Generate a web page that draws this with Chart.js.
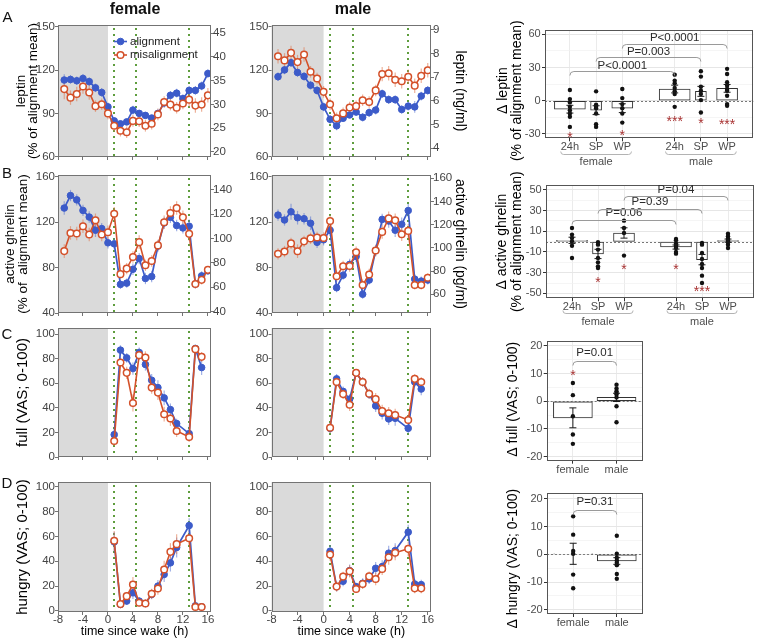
<!DOCTYPE html>
<html><head><meta charset="utf-8">
<script src="https://cdn.jsdelivr.net/npm/chart.js@4.4.1/dist/chart.umd.min.js"></script>
<style>
html,body{margin:0;padding:0;background:#fff}
body{width:757px;height:640px;position:relative;overflow:hidden;font-family:'Liberation Sans',Arial,Helvetica,sans-serif}
canvas{position:absolute;display:block}
.t{position:absolute;transform:translate(-50%,-50%);white-space:nowrap;color:#111;line-height:1;z-index:5}
.hd{font-weight:bold;font-size:16px}
.pl{font-size:15px}
</style></head><body>
<div class="t hd" style="left:135px;top:9px">female</div>
<div class="t hd" style="left:353px;top:9px">male</div>
<div class="t pl" style="left:7.5px;top:16px">A</div>
<div class="t pl" style="left:7px;top:172px">B</div>
<div class="t pl" style="left:7px;top:333px">C</div>
<div class="t pl" style="left:7px;top:482px">D</div>
<script>
// ===================== DATA =====================
const hoursBlood = [-7,-6,-5,-4,-3,-2,-1,0,1,2,3,4,5,6,7,8,9,10,11,12,13,14,15,16];
const hoursVAS = [1,2,3,4,5,6,7,8,9,10,11,13,14,15];
const timeTicks = [-8,-4,0,4,8,12,16];
const sleepWindow = [-8,0];
const mealTimes = [1,4.5,13];

const leptinFemAlign = [113.1,113.5,112.6,114.2,112.0,107.7,104.5,94.5,84.8,82.8,84.1,92.3,90.0,88.6,86.8,90.0,97.2,102.5,104.0,100.2,105.9,105.9,109.0,117.6];
const leptinFemAlignErr = [4,3,3,3,3,3,3,3,2,2,2,3,2,2,2,2,3,3,3,3,3,3,3,3];
const leptinFemMis = [106.8,100.9,103.4,108.6,104.5,95.0,96.3,90.0,81.4,78.0,76.9,84.8,84.6,81.4,82.8,89.3,97.9,96.1,93.9,96.8,99.5,95.4,96.1,102.5];
const leptinFemMisErr = [7,5,5,5,5,4,4,4,4,4,4,4,4,4,4,4,4,4,4,4,5,5,5,5];
const leptinMaleAlign = [115.4,120.1,125.1,118.3,115.6,109.5,105.9,94.5,85.9,81.4,86.6,88.9,90.9,87.3,90.5,92.3,103.6,99.5,99.5,92.7,95.0,94.5,102.0,105.9];
const leptinMaleAlignErr = [3,3,3,3,3,3,3,3,3,3,2,2,2,3,3,3,3,3,3,3,3,4,3,3];
const leptinMaleMis = [129.6,126.7,131.9,125.5,130.8,118.8,114.2,104.9,96.3,86.6,90.0,94.1,95.0,99.1,97.9,105.9,117.2,117.8,113.3,112.2,115.4,109.2,116.0,119.9];
const leptinMaleMisErr = [5,5,5,5,5,4,4,4,4,4,4,4,4,4,4,4,5,5,5,5,5,5,5,5];

const ghrelinFemAlign = [132.4,143.4,139.6,130.3,124.5,112.9,114.3,101.8,100.9,65.2,66.3,78.5,87.9,70.4,72.1,98.9,119.3,124.2,117.0,114.9,116.4,65.5,72.7,77.1];
const ghrelinFemAlignErr = [6,5,5,5,5,6,5,5,5,4,4,5,5,5,5,5,5,5,5,5,6,4,4,3];
const ghrelinFemMis = [94.5,110.5,110.0,116.4,109.1,121.6,109.1,111.1,127.4,74.2,79.1,89.3,102.4,82.0,85.8,99.5,119.9,128.0,132.4,124.2,109.7,65.5,69.2,78.0];
const ghrelinFemMisErr = [6,6,6,6,6,6,6,6,6,4,5,5,6,5,5,5,6,6,6,6,6,4,4,3];
const ghrelinMaleAlign = [126.2,121.9,129.1,123.9,123.0,119.0,102.2,104.5,112.9,62.3,73.3,82.8,89.8,56.5,69.0,95.0,122.4,121.0,112.9,118.1,130.2,69.8,68.1,69.0];
const ghrelinMaleAlignErr = [5,5,7,6,5,6,5,5,5,4,4,5,5,4,4,5,5,6,6,6,6,4,4,4];
const ghrelinMaleMis = [92.1,94.1,101.3,94.4,103.1,105.7,106.5,106.0,121.0,72.4,81.1,81.4,93.5,64.6,73.9,95.0,111.4,123.3,121.6,109.4,112.3,64.6,64.6,71.0];
const ghrelinMaleMisErr = [5,5,5,6,5,5,5,5,5,5,5,5,5,5,5,5,6,6,6,6,6,4,4,4];

const fullFemAlign = [18.2,87.0,80.7,72.0,85.1,75.3,62.5,56.5,48.1,38.6,27.2,19.0,88.3,72.8];
const fullFemAlignErr = [3,4,4,5,4,5,5,6,6,5,4,3,3,6];
const fullFemMis = [13.0,76.9,68.5,44.0,82.9,81.0,56.5,52.4,34.8,31.3,21.2,16.3,87.8,81.5];
const fullFemMisErr = [4,4,5,7,4,5,5,6,6,6,5,4,3,4];
const fullMaleAlign = [23.3,63.6,53.4,47.1,68.5,61.1,51.2,41.6,35.6,31.0,31.5,23.3,61.1,55.3];
const fullMaleAlignErr = [4,4,4,4,3,4,4,5,5,5,6,4,4,5];
const fullMaleMis = [23.8,61.1,51.2,42.5,68.5,61.1,51.5,47.1,37.5,35.6,34.2,30.1,63.6,61.1];
const fullMaleMisErr = [4,4,4,5,3,4,4,5,5,5,5,4,4,4];

const hungryFemAlign = [55.6,5.1,7.8,14.5,7.8,5.9,13.2,19.9,29.3,38.7,51.1,68.8,4.0,3.2];
const hungryFemAlignErr = [8,2,3,5,3,3,4,5,6,7,8,6,2,2];
const hungryFemMis = [56.5,5.4,11.8,21.2,6.5,5.9,13.7,18.0,33.3,47.6,53.8,58.6,3.0,3.0];
const hungryFemMisErr = [8,2,3,6,3,3,4,5,7,7,8,6,2,2];
const hungryMaleAlign = [48.1,19.5,23.8,32.4,19.5,22.2,25.7,34.3,35.7,46.5,48.6,63.5,21.6,21.1];
const hungryMaleAlignErr = [5,4,4,5,3,4,4,5,5,6,6,6,4,4];
const hungryMaleMis = [45.4,19.5,27.6,31.9,17.6,21.6,27.8,25.7,33.8,43.2,46.8,50.0,18.1,18.1];
const hungryMaleMisErr = [5,4,4,5,3,4,4,5,5,6,6,6,4,4];

const leptinPctTicks = [60,90,120,150];
const leptinFemAbsTicks = [20,25,30,35,40,45];
const leptinMaleAbsTicks = [4,5,6,7,8,9];
const ghrelinPctTicks = [40,80,120,160];
const ghrelinFemAbsTicks = [40,60,80,100,120,140];
const ghrelinMaleAbsTicks = [60,80,100,120,140,160];
const vasTicks = [0,20,40,60,80,100];

// bar panels
const condLabels = ['24h','SP','WP','24h','SP','WP'];
const condPos = [0,1,2,4,5,6];
const sexLabels = ['female','male'];
const sexPos = [1,2];

const dLeptinMean = [-7.6,-8.5,-6.7,10.6,8.5,11.2];
const dLeptinErr = [3.5,4.0,4.0,3.5,4.5,3.5];
const dLeptinDots = [
  [9.7,1.5,-1.5,-5.5,-8.5,-11.5,-14.5,-23.6],
  [8.5,-3.6,-5.5,-6.7,-11.5,-21.2,-23.6],
  [10.6,2.4,-3.0,-6.7,-11.5,-19.7],
  [23.6,18.2,15.8,11.5,8.5,6.1,-5.5],
  [26.7,21.8,12.7,9.1,6.1,0.6,-10.6],
  [28.8,24.2,16.7,13.6,10.6,9.1,4.5,-3.0,-4.5]
];
const dLeptinStarIdx = [0,2,3,4,5];
const dLeptinStarY = [-30.3,-27.9,-15.8,-17.3,-18.2];
const dLeptinStarText = ['*','*','***','*','***'];
const dLeptinPFrom = [0,1,2], dLeptinPTo = [3,4,5];
const dLeptinPLine = [27.3,39.4,50.9];
const dLeptinPLabelY = [31.8,44.2,56.5];
const dLeptinPText = ['P<0.0001','P=0.003','P<0.0001'];
const dLeptinMajor = [-30,0,30,60], dLeptinMinor = [-15,15,45];

const dGhrelinMean = [1.3,-11.9,8.4,-5.2,-17.4,1.0];
const dGhrelinErr = [3,4.5,5,2,5,1.5];
const dGhrelinDots = [
  [13.2,6.8,3.5,0.3,-3.9,-15.8],
  [-0.6,-2.9,-7.7,-15.8,-20.0,-23.9,-25.5],
  [20.3,13.2,8.4,-13.5],
  [2.6,1.3,-1.9,-3.9,-6.1,-10.0,-11.6],
  [-1.3,-2.9,-11.0,-16.8,-21.6,-25.5,-32.9,-40.0],
  [7.7,5.2,2.9,1.0,-0.6,-2.9,-6.1]
];
const dGhrelinStarIdx = [1,2,3,4];
const dGhrelinStarY = [-36.1,-23.9,-23.9,-44.8];
const dGhrelinStarText = ['*','*','*','***'];
const dGhrelinPFrom = [0,1,2], dGhrelinPTo = [3,4,5];
const dGhrelinPLine = [20.6,31.6,43.9];
const dGhrelinPLabelY = [27.7,38.4,49.7];
const dGhrelinPText = ['P=0.06','P=0.39','P=0.04'];
const dGhrelinMajor = [-50,-30,-10,10,30,50], dGhrelinMinor = [-40,-20,0,20,40];

const dFullMean = [-6.0,1.4];
const dFullErr = [3.6,1.5];
const dFullDots = [[6.6,2.2,-5.4,-12.0,-15.4],[6.0,4.6,3.6,3.0,2.4,1.4,-1.8,-7.6]];
const dFullStarIdx = [0], dFullStarY = [10.5], dFullStarText = ['*'];
const dFullPFrom = [0], dFullPTo = [1], dFullPLine = [14.7], dFullPLabelY = [17.4], dFullPText = ['P=0.01'];

const dHungryMean = [0.2,-2.4];
const dHungryErr = [3.8,1.2];
const dHungryDots = [[13.7,7.1,1.2,0.2,-7.3,-12.2],[6.7,0.2,-1.2,-2.2,-3.0,-3.9,-7.1,-8.8]];
const dHungryPFrom = [0], dHungryPTo = [1], dHungryPLine = [16.1], dHungryPLabelY = [19.0], dHungryPText = ['P=0.31'];
const vasDeltaMajor = [-20,-10,0,10,20], vasDeltaMinor = [-15,-5,5,15];

// ===================== STYLE / HELPERS =====================
const FONT = "'Liberation Sans', Arial, Helvetica, sans-serif";
const BLUE = '#3c5bc9', ORANGE = '#d4512a';
const BLUE_ERR = 'rgba(85,115,210,0.55)', ORANGE_ERR = 'rgba(225,125,85,0.6)';
const AX = '#737373', TXT = '#444';

Chart.defaults.font.family = FONT;
Chart.defaults.animation = false;
Chart.defaults.plugins.legend.display = false;
Chart.defaults.plugins.tooltip.enabled = false;

function addCanvas(b) {
  const c = document.createElement('canvas');
  c.width = b.w; c.height = b.h;
  c.style.left = b.x + 'px'; c.style.top = b.y + 'px';
  c.style.width = b.w + 'px'; c.style.height = b.h + 'px';
  document.body.appendChild(c);
  return c;
}

function drawErr(chart) {
  const ctx = chart.ctx;
  chart.data.datasets.forEach((ds, i) => {
    if (!ds.err) return;
    const meta = chart.getDatasetMeta(i);
    const ys = meta.yScale;
    ctx.save();
    ctx.strokeStyle = ds.errColor; ctx.lineWidth = ds.errWidth || 1.2;
    meta.data.forEach((el, j) => {
      const v = ds.data[j].y, e = ds.err[j];
      if (e == null) return;
      const px = el.x, y0 = ys.getPixelForValue(v - e), y1 = ys.getPixelForValue(v + e);
      ctx.beginPath(); ctx.moveTo(px, y0); ctx.lineTo(px, y1);
      if (ds.errCap) {
        ctx.moveTo(px - ds.errCap, y0); ctx.lineTo(px + ds.errCap, y0);
        ctx.moveTo(px - ds.errCap, y1); ctx.lineTo(px + ds.errCap, y1);
      }
      ctx.stroke();
    });
    ctx.restore();
  });
}

function makeAnnot(o) {
  return {
    id: 'annot',
    beforeDatasetsDraw(chart) {
      const {ctx, chartArea: a, scales: {x, y}} = chart;
      ctx.save();
      if (o.shade) {
        const x0 = x.getPixelForValue(o.shade[0]), x1 = x.getPixelForValue(o.shade[1]);
        ctx.fillStyle = '#dadada';
        ctx.fillRect(x0, a.top, x1 - x0, a.bottom - a.top);
      }
      if (o.vlines) {
        ctx.strokeStyle = '#5e9d3d'; ctx.lineWidth = 2; ctx.setLineDash([2, 4]);
        o.vlines.forEach(v => {
          const px = Math.round(x.getPixelForValue(v));
          ctx.beginPath(); ctx.moveTo(px, a.top + 3); ctx.lineTo(px, a.bottom); ctx.stroke();
        });
        ctx.setLineDash([]);
      }
      if (o.zero) {
        const py = Math.round(y.getPixelForValue(0)) + 0.5;
        ctx.strokeStyle = '#777'; ctx.lineWidth = 1; ctx.setLineDash([2, 2]);
        ctx.beginPath(); ctx.moveTo(a.left, py); ctx.lineTo(a.right, py); ctx.stroke();
        ctx.setLineDash([]);
      }
      if (o.errFirst) drawErr(chart);
      ctx.restore();
    },
    afterDatasetsDraw(chart) {
      const {ctx, chartArea: a, scales: {x, y}} = chart;
      ctx.save();
      if (!o.errFirst) drawErr(chart);
      // frame
      ctx.strokeStyle = o.frameColor; ctx.lineWidth = 1;
      const L = Math.round(a.left) + 0.5, T = Math.round(a.top) + 0.5, R = Math.round(a.right) - 0.5, B = Math.round(a.bottom) - 0.5;
      ctx.strokeRect(L, T, R - L, B - T);
      // legend
      if (o.legend) {
        ctx.font = '11.5px ' + FONT; ctx.textBaseline = 'middle'; ctx.textAlign = 'left';
        chart.data.datasets.forEach((ds, k) => {
          const yy = a.top + o.legend.dy + k * o.legend.gap, x0 = a.left + o.legend.dx;
          ctx.strokeStyle = ds.borderColor; ctx.lineWidth = 1.6;
          ctx.beginPath(); ctx.moveTo(x0, yy); ctx.lineTo(x0 + 13, yy); ctx.stroke();
          ctx.beginPath(); ctx.arc(x0 + 6.5, yy, 3.3, 0, Math.PI * 2);
          ctx.fillStyle = ds.pointBackgroundColor; ctx.fill();
          ctx.lineWidth = ds.pointBorderWidth; ctx.strokeStyle = ds.pointBorderColor; ctx.stroke();
          ctx.fillStyle = '#222'; ctx.fillText(ds.label, x0 + 16, yy);
        });
      }
      // significance brackets
      if (o.brackets) {
        ctx.font = '11.5px ' + FONT; ctx.textAlign = 'center'; ctx.textBaseline = 'middle';
        o.brackets.forEach(bk => {
          const p1 = x.getPixelForValue(bk.x1), p2 = x.getPixelForValue(bk.x2), py = Math.round(y.getPixelForValue(bk.y)) + 0.5;
          ctx.strokeStyle = '#9a9a9a'; ctx.lineWidth = 1;
          ctx.beginPath();
          ctx.moveTo(p1, py + 4); ctx.quadraticCurveTo(p1, py, p1 + 4, py);
          ctx.lineTo(p2 - 4, py); ctx.quadraticCurveTo(p2, py, p2, py + 4);
          ctx.stroke();
          ctx.fillStyle = '#2b2b2b';
          ctx.fillText(bk.text, (p1 + p2) / 2, y.getPixelForValue(bk.ty));
        });
      }
      // stars
      if (o.stars) {
        ctx.font = '14px ' + FONT; ctx.textAlign = 'center'; ctx.textBaseline = 'alphabetic';
        ctx.fillStyle = '#a83232';
        o.stars.forEach(s => ctx.fillText(s.text, x.getPixelForValue(s.x), y.getPixelForValue(s.y) + 8));
      }
      // group labels under categories
      if (o.groups) {
        ctx.font = '11px ' + FONT; ctx.textAlign = 'center'; ctx.textBaseline = 'middle';
        o.groups.forEach(g => {
          const p1 = x.getPixelForValue(g.x1), p2 = x.getPixelForValue(g.x2), py = Math.round(a.bottom + o.groupLineDy) + 0.5;
          ctx.strokeStyle = '#b3b3b3'; ctx.lineWidth = 1;
          ctx.beginPath();
          ctx.moveTo(p1, py - 3); ctx.quadraticCurveTo(p1, py, p1 + 3, py);
          ctx.lineTo(p2 - 3, py); ctx.quadraticCurveTo(p2, py, p2, py - 3);
          ctx.stroke();
          ctx.fillStyle = '#4d4d4d';
          ctx.fillText(g.text, x.getPixelForValue(g.c), a.bottom + o.groupTextDy);
        });
      }
      // rotated y-axis title (ggplot panels: centred with a small vertical offset)
      if (o.yTitle) {
        const lines = Array.isArray(o.yTitle.text) ? o.yTitle.text : [o.yTitle.text];
        ctx.font = '14px ' + FONT; ctx.textAlign = 'center'; ctx.textBaseline = 'middle'; ctx.fillStyle = '#000';
        const cy = (a.top + a.bottom) / 2 + o.yTitle.dy;
        lines.forEach((t, k) => {
          ctx.save(); ctx.translate(o.yTitle.xs[k], cy); ctx.rotate(-Math.PI / 2);
          ctx.fillText(t, 0, 0); ctx.restore();
        });
      }
      ctx.restore();
    }
  };
}

function lineChart(c) {
  const b = c.box, p = c.plot;
  const leftW = p.l - b.x, rightW = b.x + b.w - p.r, bottomH = b.y + b.h - p.b;
  const tickFont = {size: 11.5};
  const scales = {
    x: {
      type: 'linear', min: -8, max: 16.5, offset: false,
      afterBuildTicks: s => { s.ticks = timeTicks.map(v => ({value: v})); },
      afterFit: s => { s.height = bottomH; },
      grid: {drawOnChartArea: false, drawTicks: true, tickLength: 3, color: AX, lineWidth: 1},
      border: {display: false},
      ticks: {display: !!c.xTitle, font: tickFont, color: TXT, padding: -2.5, maxRotation: 0, autoSkip: false},
      title: {display: !!c.xTitle, text: c.xTitle || '', font: {size: 12.5}, color: '#000', padding: {top: 0, bottom: 0.8}}
    },
    y: {
      type: 'linear', position: 'left', min: c.yMin, max: c.yMax,
      afterBuildTicks: s => { s.ticks = c.yTicks.map(v => ({value: v})); },
      afterFit: s => { s.width = leftW; },
      grid: {drawOnChartArea: false, drawTicks: true, tickLength: 3, color: AX},
      border: {display: false},
      ticks: {font: tickFont, color: TXT, padding: 0},
      title: c.yTitle ? {display: true, text: c.yTitle, font: {size: c.yTitleSize, lineHeight: c.yTitleLH}, color: '#000', padding: {top: c.yTitlePad, bottom: 0}} : {display: false}
    }
  };
  if (c.y2) {
    scales.y2 = {
      type: 'linear', position: 'right', min: c.y2.min, max: c.y2.max,
      afterBuildTicks: s => { s.ticks = c.y2.ticks.map(v => ({value: v})); },
      afterFit: s => { s.width = rightW; },
      grid: {drawOnChartArea: false, drawTicks: true, tickLength: 3, color: AX},
      border: {display: false},
      ticks: {font: tickFont, color: TXT, padding: -1},
      title: c.y2.title ? {display: true, text: c.y2.title, font: {size: 14}, color: '#000', padding: {top: 1.6, bottom: 0}} : {display: false}
    };
  }
  const mk = (arr) => c.hours.map((h, i) => ({x: h, y: arr[i]}));
  const datasets = [
    {label: 'alignment', data: mk(c.align), err: c.alignErr, errColor: BLUE_ERR,
     borderColor: BLUE, backgroundColor: BLUE, pointBackgroundColor: BLUE, pointBorderColor: BLUE,
     pointRadius: 3.3, pointBorderWidth: 1, borderWidth: 1.7, order: 2, tension: 0},
    {label: 'misalignment', data: mk(c.mis), err: c.misErr, errColor: ORANGE_ERR,
     borderColor: ORANGE, backgroundColor: '#fff', pointBackgroundColor: '#fff', pointBorderColor: ORANGE,
     pointRadius: 3.3, pointBorderWidth: 1.5, borderWidth: 1.6, order: 1, tension: 0}
  ];
  new Chart(addCanvas(b), {
    type: 'line',
    data: {datasets},
    options: {
      responsive: false, devicePixelRatio: 1, animation: false, events: [],
      layout: {autoPadding: false, padding: {top: p.t - b.y, left: 0, bottom: 0, right: c.y2 ? 0 : rightW}},
      scales,
      plugins: {legend: {display: false}, tooltip: {enabled: false}}
    },
    plugins: [makeAnnot({shade: sleepWindow, vlines: mealTimes, errFirst: true, frameColor: AX, legend: c.legend})]
  });
}

function barChart(c) {
  const b = c.box, p = c.plot;
  const leftW = p.l - b.x, bottomH = b.y + b.h - p.b, rightPad = b.x + b.w - p.r;
  const major = new Set(c.yMajor);
  const yAll = c.yMajor.concat(c.yMinor).sort((u, v) => u - v);
  const isMaj = ctx => ctx.tick && major.has(ctx.tick.value);
  const datasets = c.barGroups.map(g => ({
    type: 'bar',
    data: g.idx.map(i => ({x: c.pos[i], y: c.mean[i]})),
    err: g.idx.map(i => c.err[i]), errColor: '#1a1a1a', errCap: 3.5, errWidth: 1,
    backgroundColor: '#fff', borderColor: '#333', borderWidth: 1, borderSkipped: false,
    grouped: false, barThickness: g.width, order: 3
  }));
  datasets.push({
    type: 'scatter',
    data: c.dots.flatMap((arr, i) => arr.map(v => ({x: c.pos[i], y: v}))),
    pointRadius: 2.2, pointBackgroundColor: '#111', backgroundColor: '#111', pointBorderWidth: 0, order: 1
  });
  const brackets = c.pFrom.map((f, k) => ({x1: c.pos[f], x2: c.pos[c.pTo[k]], y: c.pLine[k], ty: c.pLabelY[k], text: c.pText[k]}));
  const stars = (c.starIdx || []).map((i, k) => ({x: c.pos[i], y: c.starY[k], text: c.starText[k]}));
  new Chart(addCanvas(b), {
    type: 'bar',
    data: {datasets},
    options: {
      responsive: false, devicePixelRatio: 1, animation: false, events: [],
      layout: {autoPadding: false, padding: {top: p.t - b.y, left: 0, bottom: 0, right: rightPad}},
      scales: {
        x: {
          type: 'linear', min: c.xMin, max: c.xMax, offset: false,
          afterBuildTicks: s => { s.ticks = c.pos.map(v => ({value: v})); },
          afterFit: s => { s.height = bottomH; },
          grid: {offset: false, color: '#ebebeb', lineWidth: 1, tickColor: '#333', tickLength: 3, drawTicks: true},
          border: {display: false},
          ticks: {callback: (v, i) => c.labels[i], color: '#4d4d4d', font: {size: 11}, padding: c.labelPad, autoSkip: false, maxRotation: 0}
        },
        y: {
          type: 'linear', min: c.yMin, max: c.yMax,
          afterBuildTicks: s => { s.ticks = yAll.map(v => ({value: v})); },
          afterFit: s => { s.width = leftW; },
          grid: {color: ctx => isMaj(ctx) ? '#e6e6e6' : '#f1f1f1', lineWidth: ctx => isMaj(ctx) ? 1 : 0.7,
                 tickColor: ctx => isMaj(ctx) ? '#333' : 'rgba(0,0,0,0)', tickLength: 3, drawTicks: true},
          border: {display: false},
          ticks: {callback: v => major.has(v) ? String(v) : '', color: '#4d4d4d', font: {size: 11}, padding: 1.3, autoSkip: false},
          title: {display: false}
        }
      },
      plugins: {legend: {display: false}, tooltip: {enabled: false}}
    },
    plugins: [makeAnnot({zero: true, errFirst: false, frameColor: '#555', brackets, stars,
      groups: c.groups, groupLineDy: c.groupLineDy, groupTextDy: c.groupTextDy,
      yTitle: {text: c.yTitle, xs: c.yTitleX.map(v => v - b.x), dy: c.yTitleDy}})]
  });
}

// ===================== LAYOUT & BUILD =====================
const col1 = {x: 0, w: 245, l: 58, r: 211};
const col2 = {x: 245, w: 225, l: 271.5, r: 431};
const rows = {
  A: {y: 15, h: 152, t: 25, b: 157},
  B: {y: 167, h: 155, t: 175, b: 313},
  C: {y: 320, h: 147, t: 328, b: 457},
  D: {y: 467, h: 173, t: 482, b: 612}
};
const box = (col, row) => ({x: col.x, y: row.y, w: col.w, h: row.h});
const plot = (col, row) => ({l: col.l, r: col.r, t: row.t, b: row.b});

// Row A - leptin
lineChart({box: box(col1, rows.A), plot: plot(col1, rows.A), hours: hoursBlood,
  align: leptinFemAlign, alignErr: leptinFemAlignErr, mis: leptinFemMis, misErr: leptinFemMisErr,
  yMin: 59.8, yMax: 151.2, yTicks: leptinPctTicks,
  yTitle: ['leptin', '(% of alignment mean)'], yTitleSize: 13.5, yTitleLH: 0.9, yTitlePad: 15.4,
  y2: {min: 18.88, max: 46.75, ticks: leptinFemAbsTicks},
  legend: {dx: 56, dy: 16.5, gap: 13.5}});
lineChart({box: box(col2, rows.A), plot: plot(col2, rows.A), hours: hoursBlood,
  align: leptinMaleAlign, alignErr: leptinMaleAlignErr, mis: leptinMaleMis, misErr: leptinMaleMisErr,
  yMin: 59.8, yMax: 151.2, yTicks: leptinPctTicks,
  y2: {min: 3.63, max: 9.21, ticks: leptinMaleAbsTicks, title: 'leptin (ng/ml)'}});

// Row B - active ghrelin
lineChart({box: box(col1, rows.B), plot: plot(col1, rows.B), hours: hoursBlood,
  align: ghrelinFemAlign, alignErr: ghrelinFemAlignErr, mis: ghrelinFemMis, misErr: ghrelinFemMisErr,
  yMin: 40, yMax: 161.5, yTicks: ghrelinPctTicks,
  yTitle: ['active ghrelin', '(% of  alignment mean)'], yTitleSize: 13.5, yTitleLH: 1.0, yTitlePad: 3.3,
  y2: {min: 38.9, max: 152.3, ticks: ghrelinFemAbsTicks}});
lineChart({box: box(col2, rows.B), plot: plot(col2, rows.B), hours: hoursBlood,
  align: ghrelinMaleAlign, alignErr: ghrelinMaleAlignErr, mis: ghrelinMaleMis, misErr: ghrelinMaleMisErr,
  yMin: 40, yMax: 161.5, yTicks: ghrelinPctTicks,
  y2: {min: 43.9, max: 162.8, ticks: ghrelinMaleAbsTicks, title: 'active ghrelin (pg/ml)'}});

// Row C - full
lineChart({box: box(col1, rows.C), plot: plot(col1, rows.C), hours: hoursVAS,
  align: fullFemAlign, alignErr: fullFemAlignErr, mis: fullFemMis, misErr: fullFemMisErr,
  yMin: 0, yMax: 105, yTicks: vasTicks,
  yTitle: 'full (VAS; 0-100)', yTitleSize: 15, yTitleLH: 1.2, yTitlePad: 14});
lineChart({box: box(col2, rows.C), plot: plot(col2, rows.C), hours: hoursVAS,
  align: fullMaleAlign, alignErr: fullMaleAlignErr, mis: fullMaleMis, misErr: fullMaleMisErr,
  yMin: 0, yMax: 105, yTicks: vasTicks});

// Row D - hungry
lineChart({box: box(col1, rows.D), plot: plot(col1, rows.D), hours: hoursVAS,
  align: hungryFemAlign, alignErr: hungryFemAlignErr, mis: hungryFemMis, misErr: hungryFemMisErr,
  yMin: -1, yMax: 104, yTicks: vasTicks,
  yTitle: 'hungry (VAS; 0-100)', yTitleSize: 15, yTitleLH: 1.2, yTitlePad: 14, xTitle: 'time since wake (h)'});
lineChart({box: box(col2, rows.D), plot: plot(col2, rows.D), hours: hoursVAS,
  align: hungryMaleAlign, alignErr: hungryMaleAlignErr, mis: hungryMaleMis, misErr: hungryMaleMisErr,
  yMin: -1, yMax: 104, yTicks: vasTicks, xTitle: 'time since wake (h)'});

// Right column - delta bar charts
const condGroups = [{idx: [0, 3], width: 31}, {idx: [1, 4], width: 11}, {idx: [2, 5], width: 21}];
const sexGroups = [{x1: -0.35, x2: 2.35, c: 1, text: sexLabels[0]}, {x1: 3.65, x2: 6.35, c: 5, text: sexLabels[1]}];

barChart({box: {x: 480, y: 15, w: 277, h: 155}, plot: {l: 545, r: 753.3, t: 30, b: 138.3},
  pos: condPos, labels: condLabels, mean: dLeptinMean, err: dLeptinErr, dots: dLeptinDots, barGroups: condGroups,
  xMin: -0.95, xMax: 7, yMin: -33.9, yMax: 63.9, yMajor: dLeptinMajor, yMinor: dLeptinMinor,
  yTitle: ['\u0394 leptin', '(% of alignment mean)'], yTitleX: [502.7, 516.7], yTitleDy: 6.5, labelPad: -1,
  pFrom: dLeptinPFrom, pTo: dLeptinPTo, pLine: dLeptinPLine, pLabelY: dLeptinPLabelY, pText: dLeptinPText,
  starIdx: dLeptinStarIdx, starY: dLeptinStarY, starText: dLeptinStarText,
  groups: sexGroups, groupLineDy: 16, groupTextDy: 23.4});

barChart({box: {x: 480, y: 170, w: 277, h: 158}, plot: {l: 546, r: 754, t: 185, b: 298.3},
  pos: condPos, labels: condLabels, mean: dGhrelinMean, err: dGhrelinErr, dots: dGhrelinDots, barGroups: condGroups,
  xMin: -1, xMax: 7, yMin: -54.8, yMax: 54.8, yMajor: dGhrelinMajor, yMinor: dGhrelinMinor,
  yTitle: ['\u0394 active ghrelin', '(% of alignment mean)'], yTitleX: [502, 516.7], yTitleDy: 0, labelPad: -1.2,
  pFrom: dGhrelinPFrom, pTo: dGhrelinPTo, pLine: dGhrelinPLine, pLabelY: dGhrelinPLabelY, pText: dGhrelinPText,
  starIdx: dGhrelinStarIdx, starY: dGhrelinStarY, starText: dGhrelinStarText,
  groups: sexGroups, groupLineDy: 15, groupTextDy: 23.2});

barChart({box: {x: 480, y: 328, w: 277, h: 152}, plot: {l: 546.7, r: 642.7, t: 340.7, b: 460.7},
  pos: sexPos, labels: sexLabels, mean: dFullMean, err: dFullErr, dots: dFullDots, barGroups: [{idx: [0, 1], width: 39}],
  xMin: 0.4, xMax: 2.6, yMin: -21.5, yMax: 21.9, yMajor: vasDeltaMajor, yMinor: vasDeltaMinor,
  yTitle: '\u0394 full (VAS; 0-100)', yTitleX: [513.3], yTitleDy: -1.5, labelPad: -0.5,
  pFrom: dFullPFrom, pTo: dFullPTo, pLine: dFullPLine, pLabelY: dFullPLabelY, pText: dFullPText,
  starIdx: dFullStarIdx, starY: dFullStarY, starText: dFullStarText});

barChart({box: {x: 480, y: 480, w: 277, h: 160}, plot: {l: 547, r: 643, t: 493.3, b: 614},
  pos: sexPos, labels: sexLabels, mean: dHungryMean, err: dHungryErr, dots: dHungryDots, barGroups: [{idx: [0, 1], width: 39}],
  xMin: 0.4, xMax: 2.6, yMin: -21.5, yMax: 22.0, yMajor: vasDeltaMajor, yMinor: vasDeltaMinor,
  yTitle: '\u0394 hungry (VAS; 0-100)', yTitleX: [513.3], yTitleDy: 5, labelPad: -0.5,
  pFrom: dHungryPFrom, pTo: dHungryPTo, pLine: dHungryPLine, pLabelY: dHungryPLabelY, pText: dHungryPText});
</script>
</body></html>
